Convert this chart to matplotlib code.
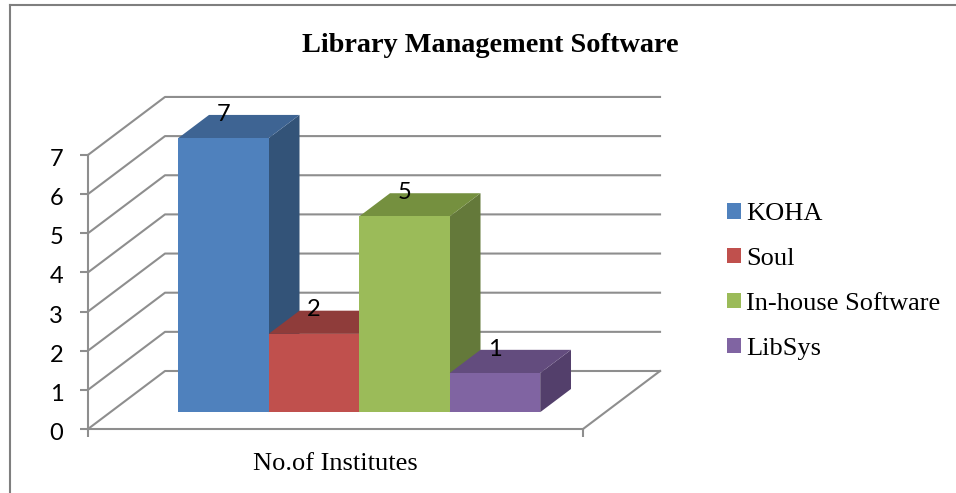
import matplotlib
matplotlib.use("Agg")
import matplotlib.pyplot as plt
from matplotlib.lines import Line2D
from matplotlib.patches import Patch
from matplotlib.transforms import ScaledTranslation

title = "Library Management Software"
category = "No.of Institutes"
series = ["KOHA", "Soul", "In-house Software", "LibSys"]
values = [7, 2, 5, 1]
y_ticks = [0, 1, 2, 3, 4, 5, 6, 7]

front_colors = ["#4F81BD", "#C0504D", "#9BBB59", "#8064A2"]
side_colors = ["#335378", "#7F3634", "#64793A", "#533F6B"]
top_colors = ["#3E6493", "#8F3C3A", "#75903F", "#634C7E"]
grid_color = "#8E8E8E"

W, H = 956, 493
# pixels per data unit, one x unit is a bar width
ux, uy = 90.5, 39.15
x0_px, y0_px = 88, 429
# full depth of the 3d box in data units
depth_x, depth_y = 77 / ux, 58 / uy
floor_w = 5.47
gap = 0.75
bar_front, bar_back = 0.29, 0.69


def proj(x, y, d):
    return x + d * depth_x, y + d * depth_y


fig = plt.figure(figsize=(W / 100, H / 100), dpi=100)
ax = fig.add_axes([0, 0, 1, 1])
ax.set_xlim(-x0_px / ux, (W - x0_px) / ux)
ax.set_ylim(-(H - y0_px) / uy, y0_px / uy)

# walls
for v in y_ticks:
    bx, by = proj(0, v, 1)
    ax.plot([0, bx, bx + floor_w], [v, by, by], color=grid_color, lw=1.5, zorder=1)
fx, fy = proj(floor_w, 0, 1)
ax.plot([floor_w, fx], [0, fy], color=grid_color, lw=1.5, zorder=1)

# bars, left to right so the next one covers the side face
for i, v in enumerate(values):
    left, right = gap + i, gap + i + 1
    z = 2 + i
    a = proj(left, 0, bar_front)
    b = proj(right, 0, bar_front)
    c = proj(right, v, bar_front)
    d = proj(left, v, bar_front)
    e = proj(right, 0, bar_back)
    f = proj(right, v, bar_back)
    g = proj(left, v, bar_back)
    ax.fill(*zip(b, e, f, c), color=side_colors[i], lw=0, zorder=z)
    ax.fill(*zip(d, c, f, g), color=top_colors[i], lw=0, zorder=z)
    ax.fill(*zip(a, b, c, d), color=front_colors[i], lw=0, zorder=z)
    ax.annotate(str(v), xy=((a[0] + b[0]) / 2, c[1]), xytext=(0, 24 / 1.39),
                textcoords="offset points", ha="center", va="center",
                fontsize=17, family="Lato", color="black", zorder=10)

# axes
for s in ["top", "right"]:
    ax.spines[s].set_visible(False)
ax.spines["left"].set_position(("data", 0))
ax.spines["bottom"].set_position(("data", 0))
ax.spines["left"].set_bounds(0, 7)
ax.spines["bottom"].set_bounds(0, floor_w)
ax.spines["left"].set_color(grid_color)
ax.spines["bottom"].set_color(grid_color)
ax.spines["left"].set_linewidth(1.5)
ax.spines["bottom"].set_linewidth(1.5)
ax.set_yticks(y_ticks)
ax.set_xticks([0, floor_w])
ax.set_xticklabels(["", ""])
ax.tick_params(axis="both", color=grid_color, width=1.5, length=5.8)
ax.tick_params(axis="y", labelsize=17, pad=12, labelfontfamily="Lato")
# nudge the value labels down a little
shift = ScaledTranslation(0, -2.5 / 100, fig.dpi_scale_trans)
for label in ax.get_yticklabels():
    label.set_transform(label.get_transform() + shift)

ax.text(floor_w / 2, -(464 - y0_px) / uy, category, ha="center", va="center",
        fontsize=19, family="Liberation Serif", color="black")
fig.text(490.5 / W, 1 - 45 / H, title, ha="center", va="center", fontsize=20.3,
         fontweight="bold", family="Liberation Serif", color="black")

handles = [Patch(facecolor=c, label=s) for c, s in zip(front_colors, series)]
ax.legend(handles=handles, loc="center left", bbox_to_anchor=(727 / W, 1 - 281.5 / H),
          bbox_transform=fig.transFigure, frameon=False,
          prop={"family": "Liberation Serif", "size": 19},
          handlelength=0.52, handleheight=0.52, handletextpad=0.21, labelspacing=0.865,
          borderpad=0, borderaxespad=0)

# outer frame of the pasted picture
fig.add_artist(Line2D([10 / W, 10 / W], [0, 1 - 5 / H], color="#7F7F7F", lw=1.5))
fig.add_artist(Line2D([10 / W, 1], [1 - 5 / H, 1 - 5 / H], color="#7F7F7F", lw=1.5))

fig.savefig("out.png", dpi=100)
